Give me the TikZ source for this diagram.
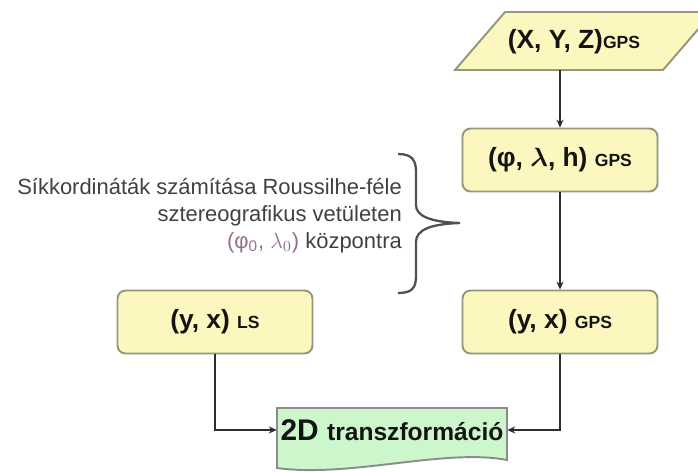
\documentclass[tikz,border=0pt]{standalone}
\usepackage{fix-cm}
\usepackage{amsmath}
\usepackage{fontspec}
\setmainfont{Liberation Sans}
\usetikzlibrary{arrows.meta}
\definecolor{sarga}{RGB}{251,247,190}
\definecolor{zold}{RGB}{204,247,204}
\definecolor{keret}{RGB}{150,150,125}
\definecolor{keretz}{RGB}{140,140,140}
\definecolor{vonal}{RGB}{45,45,45}
\definecolor{kapocs}{RGB}{80,80,80}
\definecolor{szurke}{RGB}{65,65,65}
\definecolor{lila}{RGB}{150,110,140}
\definecolor{felirat}{RGB}{20,20,20}
\newcommand{\kicsi}[1]{{\fontsize{10}{12}\selectfont #1}}
\begin{document}
\begin{tikzpicture}[x=0.02cm, y=-0.02cm,
	doboz/.style={draw=keret, fill=sarga, line width=1.1pt, rounded corners=0.16cm,
		minimum width=3.9cm, minimum height=1.26cm, inner sep=0pt, text=felirat,
		font=\fontsize{15}{18}\selectfont\bfseries},
	nagy/.style={text=felirat, font=\fontsize{15}{18}\selectfont\bfseries},
	nyil/.style={draw=vonal, line width=0.9pt, -{Stealth[length=4.5pt,width=4pt]}}]
	\useasboundingbox (0,0) rectangle (698,471);
	%Csomopontok
	\path[draw=keret, fill=sarga, line width=1.1pt] (455,70) -- (505,12) -- (713,12) -- (663,70) -- cycle;
	\node[nagy] (xyz) at (574,42) {(X, Y, Z)\kicsi{GPS}};
	\coordinate (xyzal) at (560,70);
	\node[doboz] (philh) at (560,160) {(φ, $\boldsymbol{\lambda}$, h) \kicsi{GPS}};
	\node[doboz] (yxgps) at (560,322) {(y, x) \kicsi{GPS}};
	\node[doboz] (yxls) at (215,322) {(y, x) \kicsi{LS}};
	\path[draw=keretz, fill=zold, line width=1.1pt] (277,408) -- (507,408) -- (507,460)
		.. controls (445,448) and (350,478) .. (277,468) -- cycle;
	\node[nagy, minimum width=4.6cm, inner sep=0pt, font=\fontsize{17}{20}\selectfont\bfseries] (trf) at (392,430)
		{2D \fontsize{14}{16}\selectfont transzformáció};
	%Magyarazat
	\node[anchor=east, align=right, text=szurke, font=\fontsize{12.5}{15.3}\selectfont] (szoveg) at (408,216)
		{Síkkordináták számítása Roussilhe-féle\\ sztereografikus vetületen\\
		\textcolor{lila}{(φ\textsubscript{0}, $\lambda_0$)} központra};
	\draw[draw=kapocs, line width=1.3pt] (398,154) .. controls (412,154) and (416,160) .. (416,172) -- (416,205)
		.. controls (416,216) and (430,222) .. (460,223)
		.. controls (430,224) and (416,230) .. (416,242) -- (416,276)
		.. controls (416,288) and (412,293) .. (398,293);
	%Nyilak
	\draw[nyil] (xyzal) -- (philh.north);
	\draw[nyil] (philh.south) -- (yxgps.north);
	\draw[nyil] (yxls.south) |- (trf.west);
	\draw[nyil] (yxgps.south) |- (trf.east);
\end{tikzpicture}
\end{document}
